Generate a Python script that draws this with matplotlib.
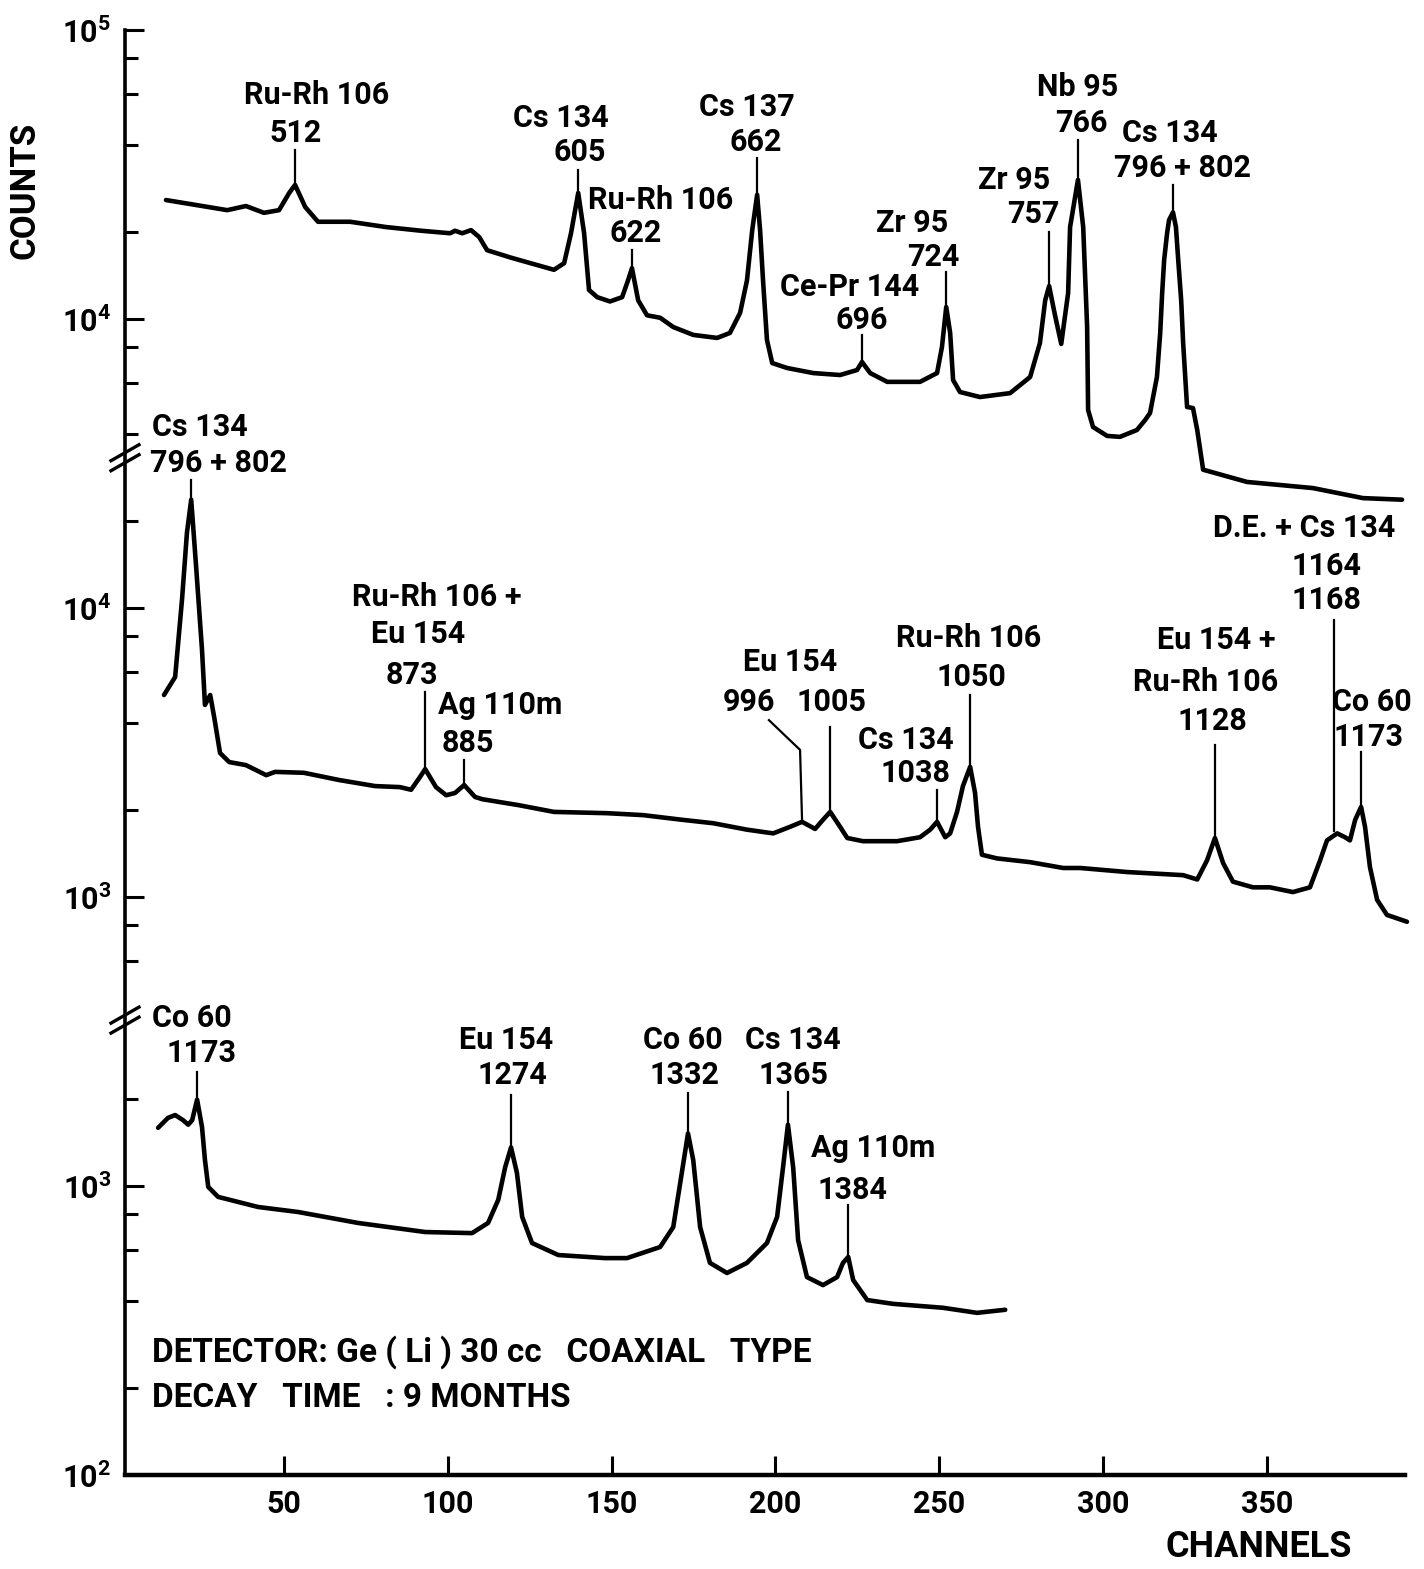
import numpy as np
import matplotlib
matplotlib.use("Agg")
import matplotlib.pyplot as plt

plt.rcParams['font.family'] = ['Roboto', 'DejaVu Sans']

# ---- spectra (channel, counts) ----
top_ch = [14.0, 23.2, 32.7, 38.4, 43.9, 48.5, 51.6, 53.4, 56.5, 60.4, 70.2, 81.2,
          91.9, 100.7, 102.2, 104.4, 107.1, 109.6, 112.0, 119.3, 132.4, 135.5,
          137.6, 139.8, 141.6, 143.1, 145.6, 149.5, 153.2, 155.0, 156.2, 158.1,
          160.8, 164.8, 168.8, 174.9, 182.2, 186.1, 189.2, 191.3, 192.9, 194.4,
          195.3, 196.2, 197.4, 199.0, 203.5, 211.5, 219.7, 224.9, 226.4, 228.9,
          234.1, 244.1, 249.3, 250.8, 252.1, 253.3, 254.2, 256.3, 262.4, 271.6,
          277.7, 280.7, 282.3, 283.5, 285.3, 287.2, 289.3, 289.9, 292.3, 293.9,
          295.1, 295.4, 296.9, 301.2, 305.1, 310.3, 312.8, 314.3, 316.4, 317.4,
          318.0, 318.6, 319.5, 320.1, 321.3, 322.2, 322.9, 323.8, 324.4, 325.6,
          327.4, 328.7, 330.5, 343.9, 364.0, 379.3, 391.2]
top_counts = [25800, 24800, 23800, 24600, 23300, 23800, 27300, 29100, 24400, 21700, 21700, 20800,
              20200, 19800, 20200, 19800, 20300, 19200, 17300, 16300, 14800, 15600,
              19800, 27300, 19800, 12600, 11900, 11500, 11900, 13600, 15000, 11600,
              10300, 10100, 9380, 8810, 8600, 8950, 10500, 13600, 20300, 26900,
              20300, 13600, 8460, 7040, 6770, 6500, 6400, 6660, 7100, 6500,
              6060, 6060, 6500, 8000, 11000, 8950, 6150, 5590, 5370, 5540,
              6300, 8260, 11600, 13000, 10300, 8200, 12300, 20800, 30300, 20800,
              9380, 4840, 4230, 3940, 3910, 4130, 4470, 4730, 6300, 8950,
              12300, 16000, 19800, 22000, 23400, 20800, 16000, 11600, 8260, 4960,
              4920, 4130, 3010, 2730, 2600, 2400, 2370]

mid_ch = [13.4, 16.8, 18.9, 20.4, 21.7, 23.2, 25.0, 25.9, 27.5, 28.7, 30.5, 33.3,
          38.4, 44.6, 47.3, 56.1, 66.8, 77.8, 85.4, 88.8, 91.5, 93.1, 96.4, 99.5,
          102.2, 105.0, 108.3, 110.5, 121.5, 132.4, 148.6, 159.6, 171.5, 181.0,
          191.3, 199.3, 204.5, 208.1, 212.1, 214.5, 216.7, 219.7, 221.9, 226.7,
          237.1, 244.1, 247.2, 249.3, 251.8, 253.3, 255.4, 257.2, 259.4, 260.9,
          261.8, 263.0, 267.6, 277.7, 287.8, 293.0, 307.3, 324.4, 328.7, 331.7,
          334.1, 336.6, 339.6, 345.7, 350.9, 357.9, 363.1, 366.2, 368.3, 371.4,
          373.8, 375.3, 376.9, 378.7, 379.9, 381.4, 383.6, 386.6, 392.7]
mid_counts = [5000, 5770, 10700, 18200, 23700, 13900, 7160, 4620, 5000, 4200, 3150, 2930,
              2860, 2640, 2710, 2690, 2540, 2420, 2400, 2350, 2600, 2770, 2400, 2250,
              2290, 2440, 2220, 2180, 2080, 1970, 1950, 1920, 1850, 1800,
              1710, 1660, 1750, 1820, 1720, 1850, 1970, 1750, 1600, 1560,
              1560, 1610, 1710, 1820, 1610, 1660, 1970, 2420, 2820, 2290,
              1750, 1400, 1360, 1320, 1260, 1260, 1220, 1190, 1150, 1340,
              1600, 1310, 1130, 1080, 1080, 1040, 1080, 1340, 1570, 1660,
              1610, 1570, 1850, 2050, 1750, 1270, 977, 867, 821]

bot_ch = [11.6, 14.6, 16.8, 19.2, 20.8, 22.0, 23.5, 25.0, 25.9, 26.9, 29.9, 42.1,
          54.3, 72.6, 93.1, 107.4, 112.3, 115.4, 117.5, 119.3, 121.1, 122.7,
          125.7, 133.7, 148.0, 154.7, 164.8, 168.8, 170.9, 173.3, 174.9, 177.0,
          180.0, 185.2, 191.3, 197.4, 200.5, 202.3, 203.8, 205.4, 206.9, 209.6,
          214.5, 218.8, 220.6, 222.2, 223.7, 228.0, 235.9, 251.1, 261.5, 270.1]
bot_counts = [1590, 1720, 1760, 1690, 1630, 1690, 1990, 1600, 1230, 993, 917, 846,
              813, 745, 693, 687, 745, 896, 1160, 1360, 1110, 782,
              635, 577, 563, 563, 615, 721, 1020, 1520, 1230, 721,
              542, 500, 542, 635, 782, 1160, 1630, 1160, 650, 484,
              454, 484, 542, 568, 473, 403, 391, 379, 364, 373]

# each stacked spectrum is shifted down by whole decades on the shared axis
shift = {"top": 0, "mid": -1, "bot": -2}
spectra = {"top": (top_ch, top_counts), "mid": (mid_ch, mid_counts), "bot": (bot_ch, bot_counts)}
panel_span = {"top": (3.52, 5.0), "mid": (1.574, 3.52), "bot": (0.0, 1.574)}

ytick_labels = [r"$\mathregular{10^{2}}$", r"$\mathregular{10^{3}}$", r"$\mathregular{10^{3}}$",
                r"$\mathregular{10^{4}}$", r"$\mathregular{10^{4}}$", r"$\mathregular{10^{5}}$"]
xticks = [50, 100, 150, 200, 250, 300, 350]

# peak labels: (panel, peak channel, leader top, [(text, x, y), ...])
peaks = [
    ("top", 53.4, 4.585, [("Ru-Rh 106", 59.9, 4.775), ("512", 53.4, 4.644)]),
    ("top", 139.8, 4.516, [("Cs 134", 134.6, 4.696), ("605", 140.4, 4.578)]),
    ("top", 156.2, 4.239, [("Ru-Rh 106", 165.1, 4.412), ("622", 157.2, 4.298)]),
    ("top", 194.4, 4.557, [("Cs 137", 191.3, 4.734), ("662", 194.1, 4.612)]),
    ("top", 226.4, 3.945, [("Ce-Pr 144", 222.5, 4.111), ("696", 226.4, 3.997)]),
    ("top", 252.1, 4.163, [("Zr 95", 241.7, 4.332), ("724", 248.1, 4.215)]),
    ("top", 283.5, 4.301, [("Zr 95", 272.8, 4.481), ("757", 278.6, 4.363)]),
    ("top", 292.3, 4.619, [("Nb 95", 292.3, 4.803), ("766", 293.3, 4.678)]),
    ("top", 321.3, 4.464, [("Cs 134", 320.4, 4.644), ("796 + 802", 324.1, 4.522)]),
    ("mid", 21.7, 3.443, [("Cs 134", 24.4, 3.626), ("796 + 802", 29.9, 3.502)]),
    ("mid", 93.1, 2.709, [("Ru-Rh 106 +", 96.7, 3.038), ("Eu 154", 90.9, 2.910), ("873", 89.1, 2.768)]),
    ("mid", 105.0, 2.474, [("Ag 110m", 116.0, 2.664), ("885", 106.2, 2.533)]),
    ("mid", 216.7, 2.588, [("Eu 154", 204.5, 2.813), ("1005", 217.0, 2.675)]),
    ("mid", 249.3, 2.370, [("Cs 134", 239.9, 2.543), ("1038", 242.6, 2.429)]),
    ("mid", 259.4, 2.699, [("Ru-Rh 106", 258.8, 2.896), ("1050", 259.7, 2.761)]),
    ("mid", 334.1, 2.526, [("Eu 154 +", 334.5, 2.889), ("Ru-Rh 106", 331.4, 2.744), ("1128", 333.2, 2.609)]),
    ("mid", 370.5, 2.958, [("D.E. + Cs 134", 361.3, 3.277), ("1164", 368.0, 3.145), ("1168", 368.0, 3.028)]),
    ("mid", 378.7, 2.502, [("Co 60", 382.1, 2.675), ("1173", 381.1, 2.554)]),
    ("bot", 23.5, 1.394, [("Co 60", 22.0, 1.581), ("1173", 24.7, 1.460)]),
    ("bot", 119.3, 1.315, [("Eu 154", 117.8, 1.505), ("1274", 119.6, 1.384)]),
    ("bot", 173.3, 1.322, [("Co 60", 171.8, 1.505), ("1332", 172.1, 1.384)]),
    ("bot", 203.8, 1.325, [("Cs 134", 205.4, 1.505), ("1365", 205.4, 1.384)]),
    ("bot", 222.2, 0.934, [("Ag 110m", 229.8, 1.132), ("1384", 223.4, 0.986)]),
]
# Eu 154 996 has a bent leader
bent_text = ("996", 191.9, 2.675)
bent_path = [(198.0, 2.612), (207.5, 2.509)]
bent_peak = 208.1

fig = plt.figure(figsize=(14.24, 15.69), dpi=100)
ax = fig.add_axes([125 / 1424, 94 / 1569, 1280 / 1424, 1445 / 1569])

lbl = dict(fontsize=22, fontweight='bold', ha='center', va='center', color='black')


def shown(name):
    ch, cnt = spectra[name]
    return np.asarray(ch), np.log10(cnt) + shift[name]


for name in spectra:
    x, y = shown(name)
    ax.plot(x, y, color='black', lw=3.3, solid_joinstyle='round', solid_capstyle='round', clip_on=False)


def peak_top(name, ch):
    x, y = shown(name)
    near = np.abs(x - ch) <= 1.6
    return y[near].max()


for name, ch, top, texts in peaks:
    ax.plot([ch, ch], [peak_top(name, ch) + 0.008, top], color='black', lw=1.6)
    for t, tx, ty in texts:
        ax.text(tx, ty, t, **lbl)

ax.text(bent_text[1], bent_text[2], bent_text[0], **lbl)
bx = [bent_path[0][0], bent_path[1][0], bent_peak]
by = [bent_path[0][1], bent_path[1][1], peak_top("mid", bent_peak) + 0.008]
ax.plot(bx, by, color='black', lw=1.6)

ax.text(9.8, 0.426, "DETECTOR: Ge ( Li ) 30 cc   COAXIAL   TYPE", fontsize=24, fontweight='bold',
        ha='left', va='center')
ax.text(9.8, 0.267, "DECAY   TIME   : 9 MONTHS", fontsize=24, fontweight='bold', ha='left', va='center')

# axes
ax.set_xlim(1.5, 392.1)
ax.set_ylim(0, 5)
for s in ('top', 'right'):
    ax.spines[s].set_visible(False)
ax.spines['left'].set_linewidth(2.6)
ax.spines['bottom'].set_linewidth(3.2)

ax.set_xticks(xticks)
ax.set_xticklabels([str(v) for v in xticks])
ax.set_yticks(range(6))
ax.set_yticklabels(ytick_labels)

minor = []
for name, (lo, hi) in panel_span.items():
    for dec in range(0, 7):
        for k in (2, 4, 6, 8):
            d = np.log10(k * 10 ** dec) + shift[name]
            if lo + 0.05 < d < hi - 0.01:
                minor.append(d)
ax.set_yticks(minor, minor=True)

ax.tick_params(axis='both', which='major', direction='in', length=14, width=2.2,
               labelsize=22, pad=10)
ax.tick_params(axis='y', which='minor', direction='in', length=9, width=2.2)
for t in ax.get_xticklabels() + ax.get_yticklabels():
    t.set_fontweight('bold')

# axis break marks
for d in (panel_span['top'][0], panel_span['bot'][1]):
    for dy in (-5, 5):
        ax.plot([1.5 - 14 / 3.277, 1.5 + 14 / 3.277],
                [d + (dy - 8) / 289, d + (dy + 8) / 289],
                color='black', lw=2.4, clip_on=False)

fig.text(25 / 1424, 1 - 190 / 1569, "COUNTS", rotation=90, fontsize=25, fontweight='bold',
         ha='center', va='center')
fig.text(1259 / 1424, 1 - 1547 / 1569, "CHANNELS", fontsize=26, fontweight='bold',
         ha='center', va='center')

fig.savefig("out.png", dpi=100, facecolor='white')
